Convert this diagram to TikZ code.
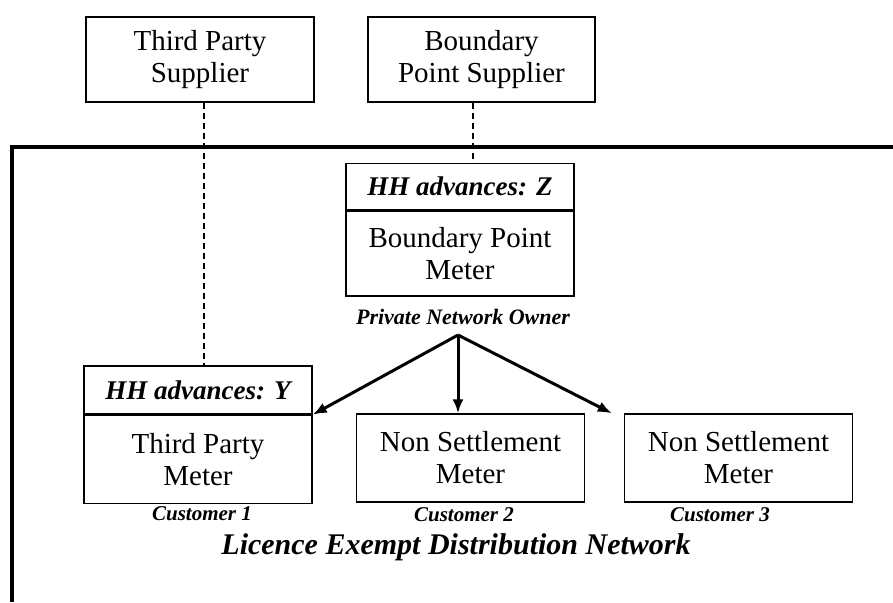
\documentclass[tikz,border=0pt]{standalone}
\usepackage{fontspec}
\setmainfont{Liberation Serif}
\usetikzlibrary{arrows.meta}
\begin{document}
\begin{tikzpicture}[x=0.5pt, y=-0.5pt,
        box/.style={draw, line width=0.7pt, align=center, inner sep=0pt, minimum width=114pt, minimum height=42.5pt, font=\fontsize{14.5}{16}\selectfont},
        head/.style={box, minimum height=23pt, font=\fontsize{13.5}{15}\selectfont\bfseries\itshape},
        tag/.style={inner sep=0pt, font=\fontsize{10.5}{12}\selectfont\bfseries\itshape},
        link/.style={line width=0.6pt, dash pattern=on 3pt off 2pt},
        feed/.style={line width=1.5pt, -{Latex[length=7pt, width=5.5pt]}}]
        \useasboundingbox (0,0) rectangle (893,602);
        % suppliers outside the network
        \node[box] (tps) at (200, 59.5) {Third Party\\Supplier};
        \node[box, minimum width=113.5pt] (bps) at (481.5, 59.5) {Boundary\\Point Supplier};
        \draw[line width=2pt] (893, 147) -- (12, 147) -- (12, 602);
        % boundary point meter
        \node[head] (hhz) at (460, 186.5) {HH advances: Z};
        \node[box] (bpm) at (hhz.south) [anchor=north] {Boundary Point\\Meter};
        \node[tag, font=\fontsize{11}{12}\selectfont\bfseries\itshape] (owner) at (463, 317) {Private Network Owner};
        % customer meters
        \node[head, minimum height=24pt] (hhy) at (198, 390) {HH advances: Y};
        \node[box, minimum height=44pt] (tpm) at (hhy.south) [anchor=north] {Third Party\\Meter};
        \node[box, minimum height=44pt] (nsm2) at (470.5, 458) {Non Settlement\\Meter};
        \node[box, minimum height=44pt] (nsm3) at (738.5, 458) {Non Settlement\\Meter};
        \node[tag] (cust1) at (202, 514) {Customer 1};
        \node[tag] (cust2) at (464, 515) {Customer 2};
        \node[tag] (cust3) at (720, 515) {Customer 3};
        \node[tag, font=\fontsize{15}{17}\selectfont\bfseries\itshape] (lednet) at (456, 547) {Licence Exempt Distribution Network};
        % links
        \draw[link] (tps.south) ++(4, 0) coordinate (tpsfoot) -- (tpsfoot |- hhy.north);
        \draw[link] (bps.south) ++(-8.5, 0) coordinate (bpsfoot) -- (bpsfoot |- hhz.north);
        \coordinate (fork) at (458, 335);
        \draw[feed] (fork) -- (tpm.north east);
        \draw[feed] (fork) -- (fork |- nsm2.north);
        \draw[feed] (fork) -- ([xshift=-6pt]nsm3.north west);
    \end{tikzpicture}
\end{document}
